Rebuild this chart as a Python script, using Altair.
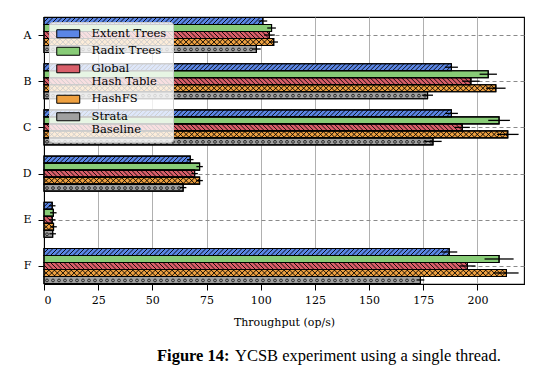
import json
import altair as alt
import pandas as pd

# ---------------- data ----------------
categories = ["A", "B", "C", "D", "E", "F"]
series = ["Extent Trees", "Radix Trees", "Global Hash Table", "HashFS", "Strata Baseline"]
colors = ["#5b86e5", "#88cc77", "#d95f6a", "#eea040", "#a0a0a0"]

extent_vals = [101, 188, 188, 67.5, 3.8, 187]
radix_vals = [105, 205, 210, 71.8, 4.3, 210]
global_vals = [104, 197, 193, 69.5, 3.8, 195.4]
hashfs_vals = [106, 208.5, 214, 71.8, 4.4, 213.4]
strata_vals = [98, 177, 179.5, 64.2, 4.0, 173.7]

extent_err = [2, 3, 3, 1.5, 1.5, 3.7]
radix_err = [2, 4, 5, 1.5, 1.5, 6.7]
global_err = [2.5, 4, 3.5, 1.5, 1.5, 3.7]
hashfs_err = [2, 4.5, 5, 1.5, 1.5, 5.6]
strata_err = [2, 2.5, 4, 1.5, 1.5, 1.8]

x_ticks = [0, 25, 50, 75, 100, 125, 150, 175, 200]

values = [extent_vals, radix_vals, global_vals, hashfs_vals, strata_vals]
errors = [extent_err, radix_err, global_err, hashfs_err, strata_err]

rows = []
for si, s in enumerate(series):
    for ci, c in enumerate(categories):
        rows.append({"cat": c, "ci": ci, "series": s, "si": si,
                     "value": values[si][ci], "err": errors[si][ci]})
df = pd.DataFrame(rows)

# ---------------- layout constants ----------------
W, H = 480, 267
XMAX = 221.5
YMIN, YMAX = -0.39, 5.39
BH = 0.1515                      # bar thickness in category units
KX = W / XMAX                    # px per x unit
KY = H / (YMAX - YMIN)           # px per y unit
BAR_PX = BH * KY
DX = BAR_PX / KX                 # x-units for a 45deg diagonal across a bar
SP_LINE = 4.5 / KX               # hatch spacing
SP_CROSS = 5.6 / KX
SP_DOT = 6.0 / KX

SERIF = "DejaVu Serif"

xscale = alt.Scale(domain=[0, XMAX], nice=False, zero=False)
yscale = alt.Scale(domain=[YMIN, YMAX], nice=False, zero=False, reverse=True)

cat_expr = json.dumps(categories) + "[datum.value]"
XTITLE = "Throughput (op/s)"
xaxis = alt.Axis(values=x_ticks, grid=True, title=XTITLE, labelPadding=4, titlePadding=11)
yaxis = alt.Axis(values=list(range(len(categories))), labelExpr=cat_expr, grid=True,
                 gridDash=[4, 3], gridColor="#8a8a8a", minExtent=30, maxExtent=30,
                 labelPadding=7, title=None)


def X(field):
    return alt.X(field, scale=xscale, axis=xaxis, title=XTITLE)


def Y(field):
    return alt.Y(field, scale=yscale, axis=yaxis, title=None)


base = alt.Chart(df).transform_calculate(
    pos=f"datum.ci + (datum.si - 2) * {BH}",
    y0=f"datum.ci + (datum.si - 2) * {BH} - {BH/2}",
    y1=f"datum.ci + (datum.si - 2) * {BH} + {BH/2}",
    zero="0",
)

label_expr = ("datum.label == 'Global Hash Table' ? ['Global', 'Hash Table'] : "
              "datum.label == 'Strata Baseline' ? ['Strata', 'Baseline'] : datum.label")

bars = base.mark_rect(stroke="black", strokeWidth=1.1).encode(
    x=X("zero:Q"),
    x2="value:Q",
    y=Y("y0:Q"),
    y2="y1:Q",
    fill=alt.Fill("series:N", scale=alt.Scale(domain=series, range=colors),
                  legend=alt.Legend(title=None, orient="none", legendX=5, legendY=5,
                                    fillColor="rgba(255,255,255,0.8)", strokeColor="#cccccc",
                                    padding=6, cornerRadius=3,
                                    labelFont=SERIF, labelFontSize=11.5, labelColor="black",
                                    symbolType="M-1,-1H4.75V1H-1Z", symbolSize=64,
                                    symbolStrokeColor="black", symbolStrokeWidth=1,
                                    symbolOpacity=1, rowPadding=4.5, labelOffset=25,
                                    labelLimit=200, labelExpr=label_expr)),
)


def diag(name, spacing, direction):
    # direction +1: "/" (bottom-left to top-right), -1: "\" (top-left to bottom-right)
    if direction > 0:
        ya = f"datum.pos + {BH/2} - datum.t0 * {BH}"
        yb = f"datum.pos + {BH/2} - datum.t1 * {BH}"
    else:
        ya = f"datum.pos - {BH/2} + datum.t0 * {BH}"
        yb = f"datum.pos - {BH/2} + datum.t1 * {BH}"
    return base.transform_filter(
        alt.datum.series == name
    ).transform_calculate(
        seq=f"sequence({-DX}, datum.value, {spacing})"
    ).transform_flatten(["seq"]).transform_calculate(
        t0=f"max(0, -datum.seq / {DX})",
        t1=f"min(1, (datum.value - datum.seq) / {DX})",
    ).transform_filter("datum.t1 > datum.t0").transform_calculate(
        hx1=f"datum.seq + datum.t0 * {DX}",
        hx2=f"datum.seq + datum.t1 * {DX}",
        ya=ya, yb=yb,
    ).mark_rule(color="black", strokeWidth=0.9).encode(
        x=X("hx1:Q"),
        x2="hx2:Q",
        y=Y("ya:Q"),
        y2="yb:Q",
    )


hatch_extent = diag("Extent Trees", SP_LINE, 1)
hatch_global = diag("Global Hash Table", SP_LINE, -1)
hatch_hfs1 = diag("HashFS", SP_CROSS, 1)
hatch_hfs2 = diag("HashFS", SP_CROSS, -1)

dots = base.transform_filter(
    alt.datum.series == "Strata Baseline"
).transform_calculate(
    seq=f"sequence({SP_DOT/2}, datum.value - {1.6/KX}, {SP_DOT})"
).transform_flatten(["seq"]).transform_calculate(
    yd="datum.pos + 0.01"
).mark_point(shape="circle", size=8, filled=False, color="black", strokeWidth=0.7, opacity=1).encode(
    x=X("seq:Q"),
    y=Y("yd:Q"),
)

outline = base.mark_rect(fillOpacity=0, stroke="black", strokeWidth=1.1).encode(
    x=X("zero:Q"),
    x2="value:Q",
    y=Y("y0:Q"),
    y2="y1:Q",
)

errbars = base.transform_calculate(
    lo="datum.value - datum.err", hi="datum.value + datum.err"
).mark_rule(color="black", strokeWidth=1.3).encode(
    x=X("lo:Q"),
    x2="hi:Q",
    y=Y("pos:Q"),
)

cap_bold = alt.Chart(pd.DataFrame({"t": ["Figure 14:"]})).mark_text(
    font="Liberation Serif", fontSize=16.5, fontWeight="bold", align="left",
    baseline="alphabetic", color="black"
).encode(text="t:N", x=alt.value(113), y=alt.value(344))

cap_rest = alt.Chart(pd.DataFrame({"t": ["YCSB experiment using a single thread."]})).mark_text(
    font="Liberation Serif", fontSize=16.5, align="left",
    baseline="alphabetic", color="black"
).encode(text="t:N", x=alt.value(191), y=alt.value(344))

chart = alt.layer(
    bars, hatch_extent, hatch_global, hatch_hfs1, hatch_hfs2, dots, outline, errbars,
    cap_bold, cap_rest
).properties(
    width=W, height=H,
    padding={"left": 6, "top": 8, "right": 5, "bottom": 5},
).configure_view(
    stroke="black", strokeWidth=1.1
).configure_axis(
    labelFont=SERIF, labelFontSize=11, labelColor="black",
    titleFont=SERIF, titleFontSize=11, titleFontWeight="normal", titleColor="black",
    domainColor="black", tickColor="black", tickSize=6,
    gridColor="#b0b0b0", gridWidth=1,
)

chart.save("out.html", embed_options={"renderer": "svg", "actions": False})
